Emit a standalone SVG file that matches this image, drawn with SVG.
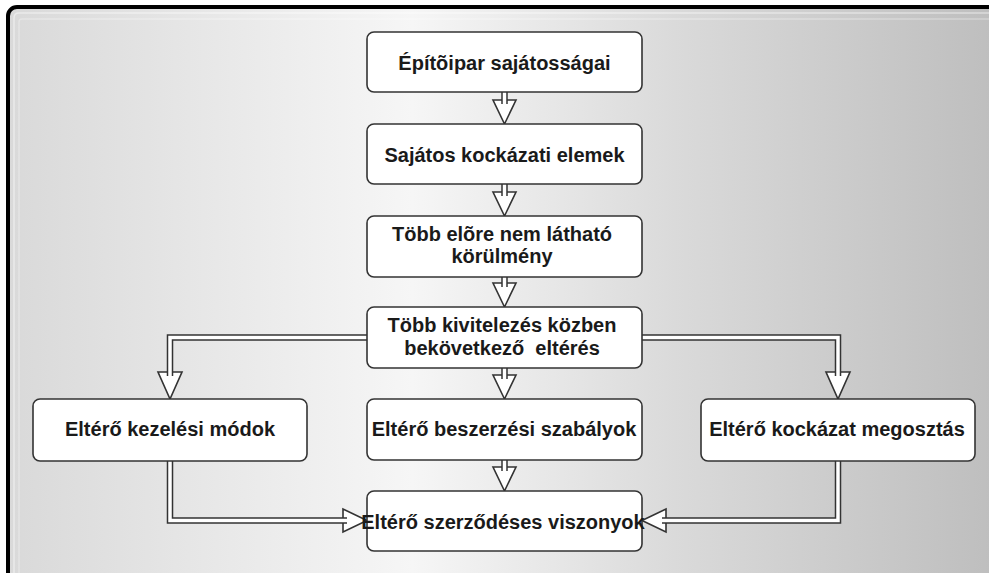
<svg xmlns="http://www.w3.org/2000/svg" width="989" height="573" viewBox="0 0 989 573">
  <defs>
    <linearGradient id="bg" x1="0" y1="0" x2="1" y2="0">
      <stop offset="0" stop-color="#d9d9d9"/>
      <stop offset="0.4" stop-color="#f6f6f6"/>
      <stop offset="0.66" stop-color="#dadada"/>
      <stop offset="1" stop-color="#bcbcbc"/>
    </linearGradient>
    <style>
      .node rect { fill: #ffffff; stroke: #333333; stroke-width: 1.6; }
      .node text { font-family: "Liberation Sans", Arial, sans-serif; font-weight: bold; font-size: 20px; fill: #1a1a1a; text-anchor: middle; }
      .outer { fill: none; stroke: #333333; stroke-width: 6.5; stroke-linejoin: miter; }
      .inner { fill: none; stroke: #ffffff; stroke-width: 3.5; stroke-linejoin: miter; }
      .head { fill: #ffffff; stroke: #333333; stroke-width: 1.6; stroke-linejoin: miter; }
    </style>
  </defs>

  <rect x="0" y="0" width="989" height="573" fill="#ffffff"/>
  <rect x="8" y="7" width="1010" height="600" rx="9" fill="url(#bg)" stroke="#000000" stroke-width="4"/>
  <path d="M14 573 V18 Q14 13 19 13 H989" fill="none" stroke="#ffffff" stroke-opacity="0.45" stroke-width="1.5"/>
  <path d="M19 573 V22 Q19 19 22 19 H989" fill="none" stroke="#ffffff" stroke-opacity="0.3" stroke-width="1.5"/>

  <g id="connectors">
    <!-- vertical center arrows -->
    <g>
      <polygon class="head" points="493,100 516,100 504.5,124"/>
      <path class="outer" d="M504.5 92 V104"/><path class="inner" d="M504.5 92 V105"/>
    </g>
    <g>
      <polygon class="head" points="493,192 516,192 504.5,216"/>
      <path class="outer" d="M504.5 184 V196"/><path class="inner" d="M504.5 184 V197"/>
    </g>
    <g>
      <polygon class="head" points="493,283 516,283 504.5,307"/>
      <path class="outer" d="M504.5 277 V287"/><path class="inner" d="M504.5 277 V288"/>
    </g>
    <g>
      <polygon class="head" points="493,375 516,375 504.5,399"/>
      <path class="outer" d="M504.5 368 V379"/><path class="inner" d="M504.5 368 V380"/>
    </g>
    <g>
      <polygon class="head" points="493,467 516,467 504.5,491"/>
      <path class="outer" d="M504.5 460 V471"/><path class="inner" d="M504.5 460 V472"/>
    </g>
    <!-- left branch -->
    <g>
      <polygon class="head" points="158,372 182,372 170,399"/>
      <path class="outer" d="M367 337.5 H170 V376"/><path class="inner" d="M367 337.5 H170 V377"/>
    </g>
    <g>
      <polygon class="head" points="343,509 343,532 367,520.5"/>
      <path class="outer" d="M170 461 V520.5 H347"/><path class="inner" d="M170 461 V520.5 H348"/>
    </g>
    <!-- right branch -->
    <g>
      <polygon class="head" points="826,372 850,372 838,399"/>
      <path class="outer" d="M642 337.5 H838 V376"/><path class="inner" d="M642 337.5 H838 V377"/>
    </g>
    <g>
      <polygon class="head" points="666,509 666,532 642,520.5"/>
      <path class="outer" d="M838 461 V520.5 H662"/><path class="inner" d="M838 461 V520.5 H661"/>
    </g>
  </g>

  <g id="n1" class="node">
    <rect x="367" y="32" width="275" height="60" rx="7"/>
    <text x="504.5" y="70">Építõipar sajátosságai</text>
  </g>
  <g id="n2" class="node">
    <rect x="367" y="124" width="275" height="60" rx="7"/>
    <text x="504.5" y="162">Sajátos kockázati elemek</text>
  </g>
  <g id="n3" class="node">
    <rect x="367" y="216" width="275" height="61" rx="7"/>
    <text x="502" y="241">Több elõre nem látható</text>
    <text x="502" y="263">körülmény</text>
  </g>
  <g id="n4" class="node">
    <rect x="367" y="307" width="275" height="61" rx="7"/>
    <text x="502" y="332">Több kivitelezés közben</text>
    <text x="502" y="355" xml:space="preserve">bekövetkező  eltérés</text>
  </g>
  <g id="n5" class="node">
    <rect x="367" y="399" width="275" height="61" rx="7"/>
    <text x="504" y="436">Eltérő beszerzési szabályok</text>
  </g>
  <g id="n6" class="node">
    <rect x="367" y="491" width="275" height="60" rx="7"/>
    <text x="503" y="529">Eltérő szerződéses viszonyok</text>
  </g>
  <g id="nL" class="node">
    <rect x="33" y="399" width="274" height="62" rx="7"/>
    <text x="170" y="436">Eltérő kezelési módok</text>
  </g>
  <g id="nR" class="node">
    <rect x="701" y="399" width="274" height="62" rx="7"/>
    <text x="837" y="436">Eltérő kockázat megosztás</text>
  </g>
</svg>
